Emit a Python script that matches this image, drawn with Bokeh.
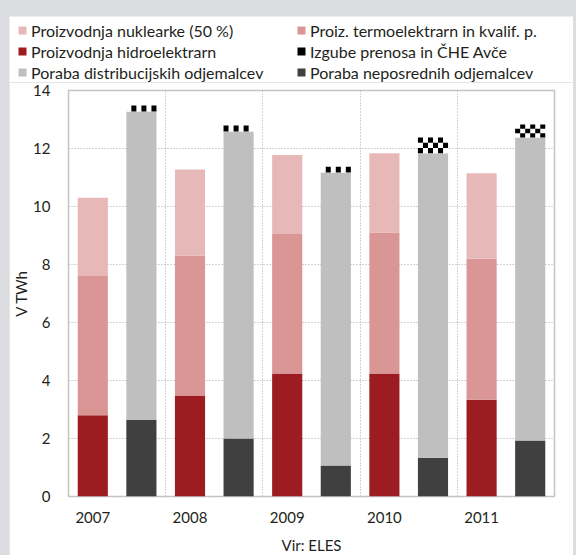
from bokeh.plotting import figure
from bokeh.layouts import column
from bokeh.models import ColumnDataSource, FixedTicker, Legend, LegendItem
from bokeh.embed import file_html
from bokeh.resources import INLINE

# ---------------- data (TWh) ----------------
years = ["2007", "2008", "2009", "2010", "2011"]
hydro = [2.80, 3.48, 4.24, 4.24, 3.34]          # Proizvodnja hidroelektrarn
thermo = [4.80, 4.82, 4.81, 4.86, 4.86]         # Proiz. termoelektrarn in kvalif. p.
nuclear = [2.70, 2.98, 2.73, 2.74, 2.95]        # Proizvodnja nuklearke (50 %)
direct = [2.64, 2.00, 1.07, 1.34, 1.93]         # Poraba neposrednih odjemalcev
distrib = [10.64, 10.59, 10.10, 10.50, 10.45]   # Poraba distribucijskih odjemalcev
losses = [0.20, 0.20, 0.20, 0.54, 0.45]         # Izgube prenosa in ČHE Avče

labels = {
    "nuclear": "Proizvodnja nuklearke (50 %)",
    "thermo": "Proiz. termoelektrarn in kvalif. p.",
    "hydro": "Proizvodnja hidroelektrarn",
    "losses": "Izgube prenosa in ČHE Avče",
    "distrib": "Poraba distribucijskih odjemalcev",
    "direct": "Poraba neposrednih odjemalcev",
}
colors = {
    "nuclear": "#e6b9b8", "thermo": "#d99694", "hydro": "#9c1c22",
    "distrib": "#bfbfbf", "direct": "#404040",
}

# ---------------- positions ----------------
n = len(years)
x_prod = [i + 0.25 for i in range(n)]
x_cons = [i + 0.75 for i in range(n)]
W = 0.31

def cum(*arrs):
    out = []
    tot = [0.0] * n
    for a in arrs:
        b = tot[:]
        tot = [t + v for t, v in zip(tot, a)]
        out.append((b, tot[:]))
    return out

(h0, h1), (t0, t1), (n0, n1) = cum(hydro, thermo, nuclear)
(d0, d1), (g0, g1), (l0, l1) = cum(direct, distrib, losses)

src = ColumnDataSource(dict(xp=x_prod, xc=x_cons, h0=h0, h1=h1, t0=t0, t1=t1,
                            n0=n0, n1=n1, d0=d0, d1=d1, g0=g0, g1=g1, l0=l0, l1=l1))

# checker cells of the losses segments (derived from the data above)
NCOL = 6
CELL_H = 0.172
cl, cr, cb, ct = [], [], [], []
for i in range(n):
    rows = max(1, round(losses[i] / CELL_H))
    hgt = losses[i] / rows
    left = x_cons[i] - W / 2
    cw = W / NCOL
    for r in range(rows):
        top = l1[i] - r * hgt
        for c in range(NCOL):
            if (r + c + i) % 2 == 1:
                cl.append(left + c * cw)
                cr.append(left + (c + 1) * cw)
                ct.append(top)
                cb.append(top - hgt)
cells = ColumnDataSource(dict(left=cl, right=cr, bottom=cb, top=ct))

FONT = "Lato"
TXT = "#231f20"

# ---------------- main chart ----------------
p = figure(width=564, height=475, x_range=(0, 5), y_range=(0, 14),
           output_backend="svg", toolbar_location=None,
           min_border_left=59, min_border_right=19, min_border_top=8,
           min_border_bottom=61)
p.frame_align = False
p.background_fill_color = "white"
p.border_fill_color = "white"
p.outline_line_color = "#c4c4c4"
p.outline_line_width = 1.5

p.vbar(x="xp", bottom="h0", top="h1", width=W, source=src,
       fill_color=colors["hydro"], line_color=None)
p.vbar(x="xp", bottom="t0", top="t1", width=W, source=src,
       fill_color=colors["thermo"], line_color=None)
p.vbar(x="xp", bottom="n0", top="n1", width=W, source=src,
       fill_color=colors["nuclear"], line_color=None)
p.vbar(x="xc", bottom="d0", top="d1", width=W, source=src,
       fill_color=colors["direct"], line_color=None)
p.vbar(x="xc", bottom="g0", top="g1", width=W, source=src,
       fill_color=colors["distrib"], line_color=None)
p.vbar(x="xc", bottom="l0", top="l1", width=W, source=src,
       fill_color="white", line_color=None)
p.quad(left="left", right="right", bottom="bottom", top="top",
       source=cells, fill_color="black", line_color=None)

p.xaxis.ticker = FixedTicker(ticks=x_prod)
p.xaxis.major_label_overrides = {x: y for x, y in zip(x_prod, years)}
p.yaxis.ticker = FixedTicker(ticks=[0, 2, 4, 6, 8, 10, 12, 14])
for ax in (p.xaxis[0], p.yaxis[0]):
    ax.axis_line_color = None
    ax.major_tick_line_color = None
    ax.minor_tick_line_color = None
    ax.major_tick_out = 0
    ax.major_tick_in = 0
    ax.major_label_text_font = FONT
    ax.major_label_text_font_size = "15px"
    ax.major_label_text_color = TXT
    ax.axis_label_text_font = FONT
    ax.axis_label_text_font_size = "15px"
    ax.axis_label_text_font_style = "normal"
    ax.axis_label_text_color = TXT
p.xaxis.major_label_standoff = 15
p.yaxis.major_label_standoff = 18
p.xaxis.axis_label = "Vir: ELES"
p.xaxis.axis_label_standoff = 10
p.yaxis.axis_label = "V TWh"
p.yaxis.axis_label_standoff = 0

p.xgrid.ticker = FixedTicker(ticks=[1, 2, 3, 4])
p.ygrid.ticker = FixedTicker(ticks=[2, 4, 6, 8, 10, 12])
for g in (p.xgrid[0], p.ygrid[0]):
    g.grid_line_color = "#a8a8a8"
    g.grid_line_dash = "1 2"
    g.grid_line_width = 1

# ---------------- legend strip ----------------
lf = figure(width=564, height=66, x_range=(0, 1), y_range=(0, 1),
            output_backend="svg", toolbar_location=None,
            min_border=0, min_border_left=0, min_border_right=0,
            min_border_top=0, min_border_bottom=0,
            x_axis_location=None, y_axis_location=None)
lf.frame_align = False
lf.grid.visible = False
lf.outline_line_color = None
lf.background_fill_color = "white"
lf.border_fill_color = "white"

# legend-only swatches, kept outside the visible range of the strip
def swatch(color):
    return lf.quad(left=[-3], right=[-2], bottom=[-3], top=[-2],
                   fill_color=color, line_color=None)

lr = {k: swatch(c) for k, c in colors.items()}
lr_lw = swatch("white")
lr_lb = swatch("black")

def make_legend(items, loc):
    return Legend(items=items, location=loc, orientation="vertical",
                  padding=0, margin=0, spacing=1, glyph_width=10, glyph_height=10,
                  label_height=20, label_standoff=4, border_line_color=None,
                  background_fill_alpha=0,
                  label_text_font=FONT, label_text_font_size="16px",
                  label_text_color=TXT)

leg1 = make_legend([LegendItem(label=labels["nuclear"], renderers=[lr["nuclear"]]),
                    LegendItem(label=labels["hydro"], renderers=[lr["hydro"]]),
                    LegendItem(label=labels["distrib"], renderers=[lr["distrib"]])],
                   (8, 0))
leg2 = make_legend([LegendItem(label=labels["thermo"], renderers=[lr["thermo"]]),
                    LegendItem(label=labels["losses"], renderers=[lr_lw, lr_lb]),
                    LegendItem(label=labels["direct"], renderers=[lr["direct"]])],
                   (287, 0))
lf.add_layout(leg1, "center")
lf.add_layout(leg2, "center")

layout = column(lf, p, spacing=0)

html = file_html(layout, INLINE)
html = html.replace(
    "<head>",
    "<head><style>html,body{background:#dcdde0 !important;}"
    "body{margin:16px 0 0 9px !important;padding:0 !important;}</style>", 1)
open("out.html", "w").write(html)
